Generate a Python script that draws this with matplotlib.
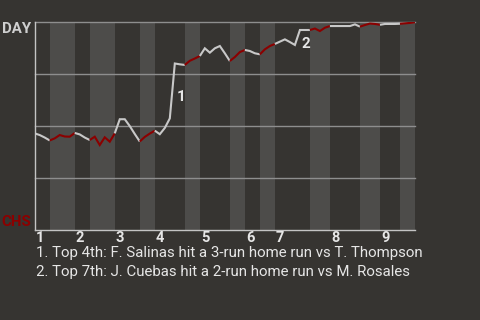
import matplotlib
matplotlib.use("Agg")
import matplotlib.pyplot as plt
import matplotlib.transforms as mtransforms
import numpy as np

# ---- data ----
events_per_half = [3, 5, 3, 5, 5, 3, 6, 3, 6, 3, 3, 3, 7, 4, 6, 4, 4, 3]
day_win_prob = [
    0.466, 0.458, 0.446, 0.432,                      # T1
    0.442, 0.458, 0.451, 0.450, 0.468,               # B1
    0.461, 0.446, 0.434,                             # T2
    0.450, 0.410, 0.447, 0.426, 0.466,               # B2
    0.534, 0.534, 0.501, 0.463, 0.427,               # T3
    0.449, 0.465, 0.479,                             # B3
    0.462, 0.492, 0.538, 0.802, 0.798, 0.795,        # T4
    0.815, 0.826, 0.838,                             # B4
    0.875, 0.854, 0.875, 0.886, 0.851, 0.814,        # T5
    0.833, 0.857, 0.867,                             # B5
    0.862, 0.851, 0.846,                             # T6
    0.870, 0.886, 0.896,                             # B6
    0.907, 0.918, 0.905, 0.891, 0.963, 0.963, 0.963, # T7
    0.970, 0.958, 0.974, 0.982,                      # B7
    0.982, 0.982, 0.982, 0.982, 0.990, 0.979,        # T8
    0.987, 0.994, 0.992, 0.988,                      # B8
    0.992, 0.992, 0.992, 0.993,                      # T9
    0.995, 0.997, 1.000,                             # B9
]
inning_labels = ["1", "2", "3", "4", "5", "6", "7", "8", "9"]
team_top = "DAY"
team_bottom = "CHS"
note_events = [28, 53]
note_marks = ["1", "2"]
notes = [
    "1. Top 4th: F. Salinas hit a 3-run home run vs T. Thompson",
    "2. Top 7th: J. Cuebas hit a 2-run home run vs M. Rosales",
]

# ---- style ----
BG = "#363431"
STRIPE = "#4d4c4a"
GRID = "#8e8e8e"
AXIS = "#c4c4c4"
GRAY_LINE = "#c8c8c8"
RED = "#8b0000"
TEXT = "#e6e6e6"

plt.rcParams["font.family"] = ["Roboto", "DejaVu Sans"]

fig = plt.figure(figsize=(4.8, 3.2), dpi=100, facecolor=BG)
ax = fig.add_axes([34.7 / 480, 1 - 230.3 / 320, (415 - 34.7) / 480, (230.3 - 22.3) / 320])
ax.set_facecolor(BG)

bounds = np.concatenate([[0], np.cumsum(events_per_half)])
n_events = bounds[-1]
ax.set_xlim(0, n_events)
ax.set_ylim(0, 1)

# stripes for bottom halves
for h in range(len(events_per_half)):
    if h % 2 == 1:
        ax.axvspan(bounds[h], bounds[h + 1], color=STRIPE, lw=0, zorder=0)

for gy in [0.25, 0.5, 0.75, 1.0]:
    ax.axhline(gy, color=GRID, lw=1.0, zorder=1, clip_on=False)

# line segments colored by half
x = np.arange(len(day_win_prob))
for h in range(len(events_per_half)):
    a, b = bounds[h], bounds[h + 1]
    col = GRAY_LINE if h % 2 == 0 else RED
    ax.plot(x[a:b + 1], day_win_prob[a:b + 1], color=col, lw=1.5,
            solid_capstyle="butt", solid_joinstyle="miter", zorder=3)

for spine in ["top", "right"]:
    ax.spines[spine].set_visible(False)
for spine in ["left", "bottom"]:
    ax.spines[spine].set_color(AXIS)
    ax.spines[spine].set_linewidth(1.0)
ax.set_xticks([])
ax.set_yticks([])

# inning labels
trans_lbl = mtransforms.blended_transform_factory(ax.transData, fig.transFigure)
off = mtransforms.ScaledTranslation(1 / 100, 0, fig.dpi_scale_trans)
for i, lab in enumerate(inning_labels):
    ax.text(bounds[2 * i], 1 - 241.7 / 320, lab, transform=trans_lbl + off,
            ha="left", va="baseline", color=TEXT, fontsize=10.5, fontweight="bold")

# team labels
fig.text(31.5 / 480, 1 - 33.3 / 320, team_top, ha="right", va="baseline",
         color="#cfcfcf", fontsize=10.8, fontweight="bold")
fig.text(31.5 / 480, 1 - 225.7 / 320, team_bottom, ha="right", va="baseline",
         color=RED, fontsize=10.8, fontweight="bold")

# note markers
for ev, mk in zip(note_events, note_marks):
    mid = (day_win_prob[ev - 1] + day_win_prob[ev]) / 2
    ax.annotate(mk, xy=(ev, mid), xytext=(1, -4.5), textcoords="offset points",
                ha="left", va="center", color=TEXT, fontsize=11, fontweight="bold",
                zorder=4)

# notes
for k, note in enumerate(notes):
    fig.text(35.5 / 480, 1 - (257.3 + 19 * k) / 320, note, ha="left", va="baseline",
             color=TEXT, fontsize=10.8)

fig.savefig("out.png", dpi=100, facecolor=BG)
